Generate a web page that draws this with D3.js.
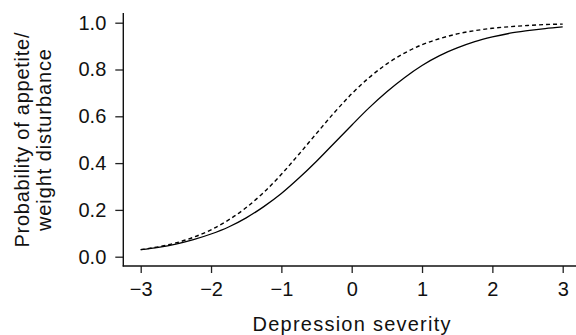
<!DOCTYPE html>
<html>
<head>
<meta charset="utf-8">
<script src="https://cdn.jsdelivr.net/npm/d3@7"></script>
<style>
  html, body { margin: 0; padding: 0; background: #fff; }
  svg { display: block; }
  text { font-family: "Liberation Sans", Arial, Helvetica, sans-serif; fill: #111; }
</style>
</head>
<body>
<svg id="chart" width="576" height="335"></svg>
<script>
// ---- Data ----
const xValues = [-3, -2.75, -2.5, -2.25, -2, -1.75, -1.5, -1.25, -1, -0.75, -0.5, -0.25, 0,
                 0.25, 0.5, 0.75, 1, 1.25, 1.5, 1.75, 2, 2.25, 2.5, 2.75, 3];
const solidSeries = [0.030, 0.040, 0.054, 0.073, 0.097, 0.127, 0.166, 0.214, 0.270, 0.336, 0.408, 0.485, 0.562,
                     0.637, 0.705, 0.765, 0.817, 0.859, 0.892, 0.919, 0.939, 0.955, 0.966, 0.975, 0.982];
const dashedSeries = [0.030, 0.042, 0.059, 0.083, 0.115, 0.157, 0.210, 0.275, 0.352, 0.438, 0.527, 0.615, 0.696,
                      0.766, 0.824, 0.870, 0.906, 0.932, 0.952, 0.966, 0.976, 0.983, 0.988, 0.992, 0.994];
const xTicks = [-3, -2, -1, 0, 1, 2, 3];
const yTicks = [0, 0.2, 0.4, 0.6, 0.8, 1.0];
const xTitle = "Depression severity";
const yTitleLines = ["Probability of appetite/", "weight disturbance"];

// ---- Layout ----
const svg = d3.select("#chart");
const x = d3.scaleLinear().domain([-3, 3]).range([140.7, 562.7]);
const y = d3.scaleLinear().domain([0, 1]).range([256.7, 22.7]);
const axisX = 123.3;   // position of the vertical axis line
const axisY = 266;     // position of the horizontal axis line
const fontSize = 20;

// x axis
const gx = svg.append("g").attr("transform", `translate(0,${axisY})`)
  .call(d3.axisBottom(x).tickValues(xTicks).tickSize(7).tickPadding(9)
    .tickFormat(d => d3.format("")(d).replace("-", "\u2212")));
gx.select(".domain").remove();
gx.selectAll("text").style("font-size", fontSize + "px")
  .style("font-family", '"Liberation Sans", Arial, sans-serif').attr("fill", "#111");
gx.selectAll("line").attr("stroke", "#222").attr("stroke-width", 1.3);

// y axis
const gy = svg.append("g").attr("transform", `translate(${axisX},0)`)
  .call(d3.axisLeft(y).tickValues(yTicks).tickSize(8).tickPadding(9).tickFormat(d3.format(".1f")));
gy.select(".domain").remove();
gy.selectAll("text").style("font-size", fontSize + "px")
  .style("font-family", '"Liberation Sans", Arial, sans-serif').attr("fill", "#111");
gy.selectAll("line").attr("stroke", "#222").attr("stroke-width", 1.3);

// axis lines
svg.append("line").attr("x1", axisX).attr("x2", axisX).attr("y1", 13).attr("y2", axisY + 0.6)
  .attr("stroke", "#111").attr("stroke-width", 1.4);
svg.append("line").attr("x1", axisX - 0.6).attr("x2", 576).attr("y1", axisY).attr("y2", axisY)
  .attr("stroke", "#111").attr("stroke-width", 1.4);

// curves
const line = d3.line().x(d => x(d[0])).y(d => y(d[1])).curve(d3.curveMonotoneX);
svg.append("path").datum(xValues.map((v, i) => [v, solidSeries[i]]))
  .attr("d", line).attr("fill", "none").attr("stroke", "#000").attr("stroke-width", 1.3);
svg.append("path").datum(xValues.map((v, i) => [v, dashedSeries[i]]))
  .attr("d", line).attr("fill", "none").attr("stroke", "#000").attr("stroke-width", 1.4)
  .attr("stroke-dasharray", "4,3");

// titles
svg.append("text").attr("x", 351.5).attr("y", 331).attr("text-anchor", "middle")
  .style("font-size", fontSize + "px")
  .attr("textLength", 198).attr("lengthAdjust", "spacing").text(xTitle);

const yt = svg.append("text").attr("transform", "translate(0,140) rotate(-90)")
  .attr("text-anchor", "middle").style("font-size", fontSize + "px");
yt.append("tspan").attr("x", 0).attr("y", 29).attr("textLength", 215).attr("lengthAdjust", "spacing").text(yTitleLines[0]);
yt.append("tspan").attr("x", 0).attr("y", 51).attr("textLength", 182).attr("lengthAdjust", "spacing").text(yTitleLines[1]);
</script>
</body>
</html>
